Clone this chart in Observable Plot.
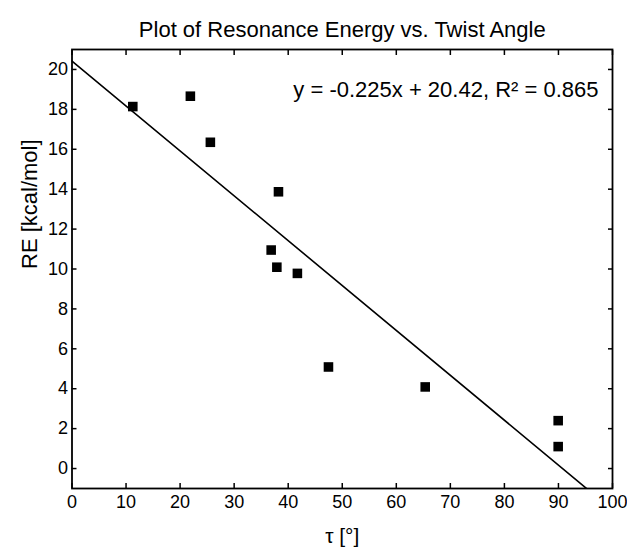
<!DOCTYPE html>
<html>
<head>
<meta charset="utf-8">
<script src="https://cdn.jsdelivr.net/npm/d3@7"></script>
<script src="https://cdn.jsdelivr.net/npm/@observablehq/plot@0.6"></script>
<style>
  html, body { margin: 0; padding: 0; background: #fff; }
  #chart svg { display: block; }
</style>
</head>
<body>
<div id="chart"></div>
<script>
// Data
const tau = [11.25, 21.9, 25.6, 38.2, 36.85, 37.9, 41.7, 47.45, 65.35, 89.95, 89.95];
const re  = [18.14, 18.66, 16.35, 13.87, 10.95, 10.09, 9.78, 5.09, 4.09, 2.40, 1.10];
const fitSlope = -0.225;
const fitIntercept = 20.42;
const fitR2 = 0.865;
const xTicks = [0, 10, 20, 30, 40, 50, 60, 70, 80, 90, 100];
const yTicks = [0, 2, 4, 6, 8, 10, 12, 14, 16, 18, 20];
const xDomain = [0, 100];
const yDomain = [-1, 21];
const titleText = "Plot of Resonance Energy vs. Twist Angle";
const xLabel = "τ [°]";
const yLabel = "RE [kcal/mol]";
const eqText = `y = ${fitSlope}x + ${fitIntercept.toFixed(2)}, R² = ${fitR2}`;

const points = tau.map((t, i) => ({tau: t, re: re[i]}));
const fitLine = xDomain.map(x => ({tau: x, re: fitSlope * x + fitIntercept}));

const font = "'Liberation Sans', Arial, Helvetica, sans-serif";

const chart = Plot.plot({
  width: 627,
  height: 547,
  marginLeft: 71.5,
  marginRight: 15,
  marginTop: 49,
  marginBottom: 59,
  style: {fontFamily: font, fontSize: "18px", color: "#000", background: "#fff"},
  x: {domain: xDomain},
  y: {domain: yDomain},
  marks: [
    // labels
    Plot.axisX({ticks: xTicks, tickSize: 0, tickPadding: 7, label: null, fontSize: 18}),
    Plot.axisY({ticks: yTicks, tickSize: 0, tickPadding: 4, label: null, fontSize: 18}),
    // inward ticks on all four sides
    Plot.axisX({ticks: xTicks, tickSize: -5, text: null, label: null, strokeWidth: 1.5}),
    Plot.axisX({anchor: "top", ticks: xTicks, tickSize: -5, text: null, label: null, strokeWidth: 1.5}),
    Plot.axisY({ticks: yTicks, tickSize: -5, text: null, label: null, strokeWidth: 1.5}),
    Plot.axisY({anchor: "right", ticks: yTicks, tickSize: -5, text: null, label: null, strokeWidth: 1.5}),
    Plot.line(fitLine, {x: "tau", y: "re", stroke: "#000", strokeWidth: 1.6, clip: true}),
    Plot.dot(points, {x: "tau", y: "re", symbol: "square", r: 5.4, fill: "#000", stroke: "none"}),
    Plot.frame({stroke: "#000", strokeWidth: 1.8}),
    Plot.text([eqText], {frameAnchor: "top-right", dx: -14, dy: 40, text: d => d, fontSize: 22, textAnchor: "end", lineAnchor: "middle", fill: "#000"}),
    Plot.text([titleText], {frameAnchor: "top", dy: -20, text: d => d, fontSize: 22, lineAnchor: "middle", fill: "#000"}),
    Plot.text([xLabel], {frameAnchor: "bottom", dy: 48, text: d => d, fontSize: 21, lineAnchor: "middle", fill: "#000"}),
    Plot.text([yLabel], {frameAnchor: "left", dx: -42, rotate: -90, text: d => d, fontSize: 22, lineAnchor: "middle", fill: "#000"})
  ]
});
document.getElementById("chart").appendChild(chart);
</script>
</body>
</html>
